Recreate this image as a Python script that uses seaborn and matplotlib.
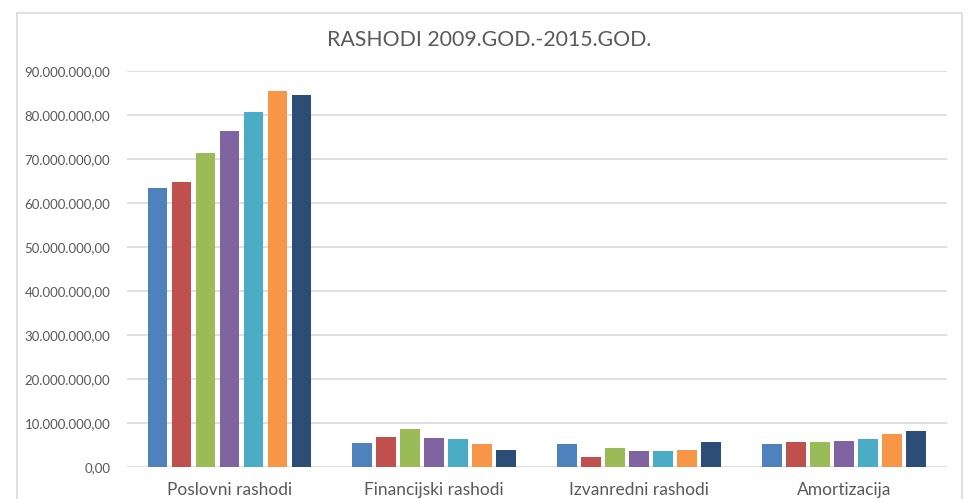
import matplotlib
matplotlib.use('Agg')
import matplotlib.pyplot as plt
import pandas as pd
import seaborn as sns
from matplotlib.patches import Rectangle
from matplotlib.ticker import FuncFormatter, MultipleLocator

# Data (values in millions)
kategorije = ['Poslovni rashodi', 'Financijski rashodi', 'Izvanredni rashodi', 'Amortizacija']
godine = ['2009', '2010', '2011', '2012', '2013', '2014', '2015']
poslovni = [63.4, 64.8, 71.4, 76.3, 80.6, 85.5, 84.5]
financijski = [5.5, 6.8, 8.7, 6.5, 6.3, 5.2, 3.8]
izvanredni = [5.2, 2.2, 4.3, 3.6, 3.55, 3.9, 5.7]
amortizacija = [5.2, 5.7, 5.7, 6.0, 6.3, 7.4, 8.2]
boje = ['#4F81BD', '#C0504D', '#9BBB59', '#8064A2', '#4BACC6', '#F79646', '#2C4D75']

rows = []
for kat, vals in zip(kategorije, [poslovni, financijski, izvanredni, amortizacija]):
    for god, v in zip(godine, vals):
        rows.append({'kategorija': kat, 'godina': god, 'iznos': v * 1e6})
df = pd.DataFrame(rows)

sns.set_style('white')
plt.rcParams['font.family'] = ['Lato', 'DejaVu Sans']

fig = plt.figure(figsize=(9.68, 4.99), dpi=100)
ax = fig.add_axes([127 / 968, 32 / 499, (946.5 - 127) / 968, (467 - 71) / 499])

sns.barplot(data=df, x='kategorija', y='iznos', hue='godina', palette=boje, saturation=1,
            width=0.82, gap=0.18, ax=ax, legend=False, linewidth=0)

ax.set_ylim(0, 90e6)
ax.set_xlim(-0.5, 3.5)
ax.yaxis.set_major_locator(MultipleLocator(10e6))

def fmt(v, pos):
    s = '{:,.2f}'.format(v)
    return s.replace(',', 'X').replace('.', ',').replace('X', '.')

ax.yaxis.set_major_formatter(FuncFormatter(fmt))
ax.grid(axis='y', color='#d9d9d9', linewidth=1.2)
ax.set_axisbelow(True)
for s in ax.spines.values():
    s.set_visible(False)
ax.set_xlabel('')
ax.set_ylabel('')
ax.tick_params(axis='y', length=0, pad=12, labelsize=9.5, labelcolor='#595959')
ax.tick_params(axis='x', length=0, pad=10.5, labelsize=12.5, labelcolor='#595959')

fig.add_artist(Rectangle((17 / 968, -0.1), (962 - 17) / 968, (499 - 13.5) / 499 + 0.1,
                         transform=fig.transFigure, fill=False, edgecolor='#d9d9d9', linewidth=1.2))
fig.text(489.5 / 968, 1 - 40 / 499, 'RASHODI 2009.GOD.-2015.GOD.', ha='center', va='center',
         fontsize=15.3, color='#595959')

fig.savefig('out.png', dpi=100)
